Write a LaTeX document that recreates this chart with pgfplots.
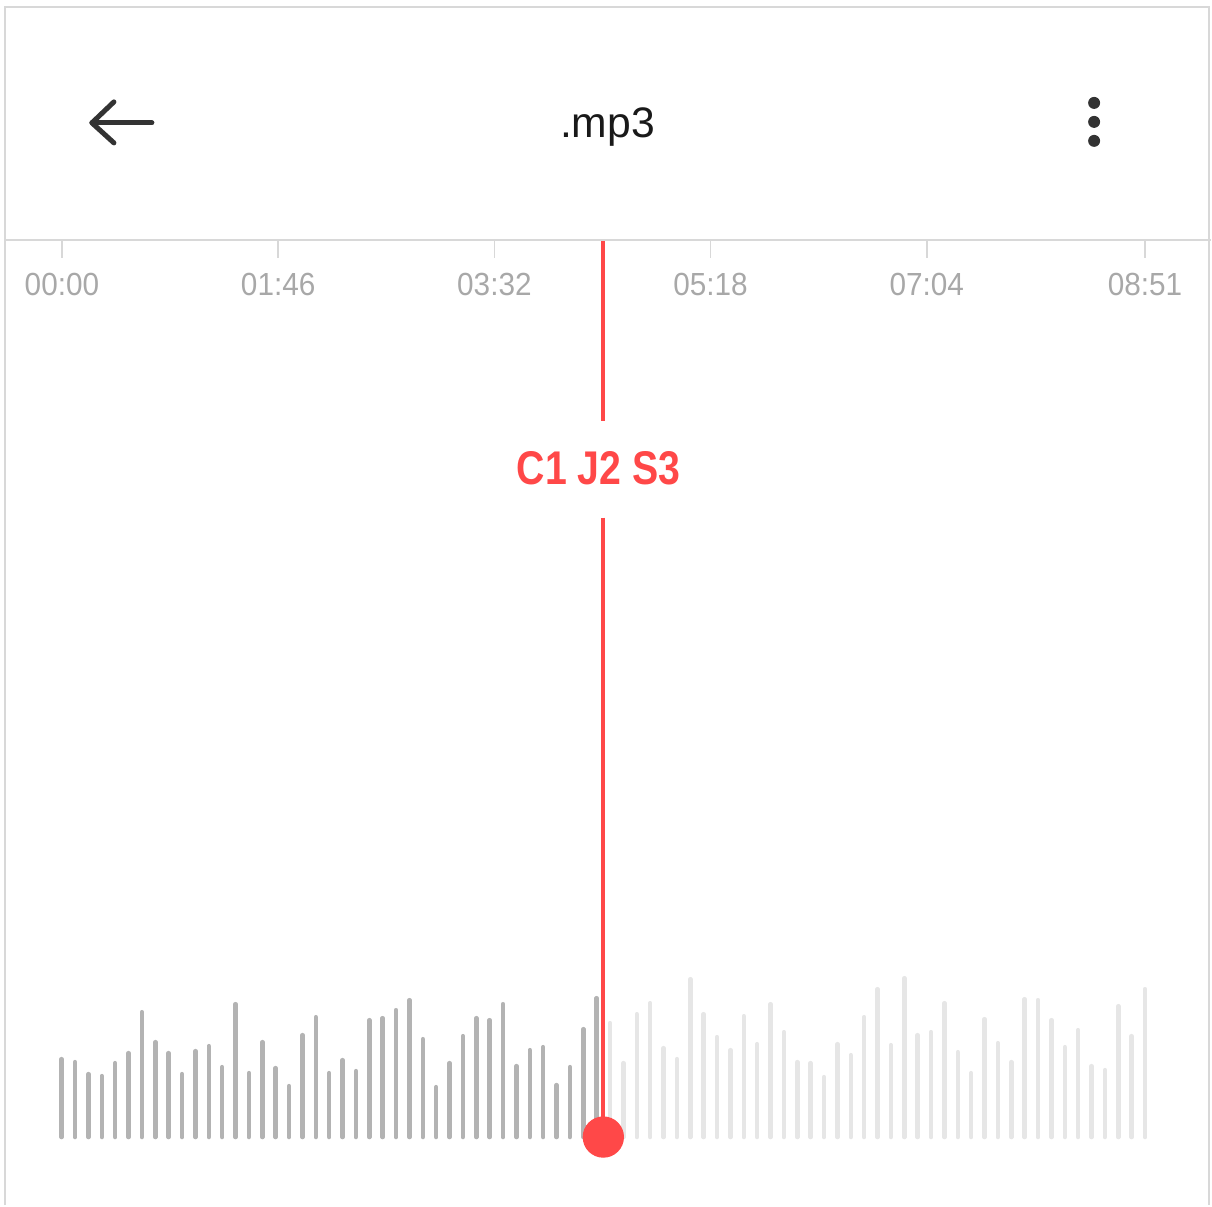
\documentclass[border=0pt]{standalone}
\usepackage{pgfplots}
\pgfplotsset{compat=1.18}
\usepackage{pgfplotstable}
\usepackage{fontspec}
\setmainfont{Liberation Sans}
\definecolor{barDark}{HTML}{B3B3B3}
\definecolor{barLight}{HTML}{E6E6E6}
\definecolor{playRed}{HTML}{FF4848}
\definecolor{tickGray}{HTML}{A8A8A8}
\definecolor{ruleGray}{HTML}{D8D8D8}
\definecolor{iconDark}{HTML}{333333}

\pgfplotstableread{
i h
0 78
1 75
2 63
3 61
4 74
5 84
6 125
7 95
8 84
9 63
10 86
11 91
12 70
13 133
14 64
15 95
16 69
17 51
18 102
19 120
20 64
21 77
22 66
23 117
24 119
25 127
26 137
27 98
28 50
29 74
30 101
31 119
32 117
33 133
34 71
35 87
36 90
37 52
38 70
39 108
40 139
}\darkbars

\pgfplotstableread{
i h
41 114
42 74
43 123
44 134
45 89
46 78
47 158
48 123
49 100
50 87
51 121
52 93
53 133
54 105
55 75
56 74
57 60
58 93
59 82
60 120
61 148
62 92
63 159
64 102
65 105
66 134
67 85
68 64
69 118
70 94
71 75
72 138
73 137
74 117
75 90
76 107
77 71
78 67
79 131
80 101
81 148
}\lightbars

\begin{document}
\begin{tikzpicture}
\begin{axis}[at={(0,0)}, anchor=south west, scale only axis,
  width=363.6pt, height=361.8pt,
  xmin=-4.609, xmax=85.933, ymin=-68, ymax=1138,
  hide axis, clip=false]
\addplot[ycomb, barLight, line width=1.35pt, line cap=round, mark=none] table[x=i,y=h]{\lightbars};
\addplot[ycomb, barDark, line width=1.35pt, line cap=round, mark=none] table[x=i,y=h]{\darkbars};
% playhead
\addplot[playRed, line width=1.2pt, mark=none] coordinates {(40.5,897) (40.5,717)};
\addplot[playRed, line width=1.2pt, mark=none] coordinates {(40.5,620) (40.5,0)};
\addplot[only marks, mark=*, mark size=6pt, playRed, mark options={draw=playRed, fill=playRed}] coordinates {(40.5,0)};
\node[playRed, font={\bfseries\fontsize{14.2}{16}\selectfont}] at (axis cs:40.14,669) {\scalebox{0.83}[1]{C1 J2 S3}};
\end{axis}
\begin{scope}[shift={(0,361.8pt)}, x=0.3pt, y=-0.3pt]
\path (0,0) rectangle (1212,1206);
% frame
\draw[ruleGray, line width=0.6pt] (5,1206) -- (5,7) -- (1210,7) -- (1210,1206);
\draw[ruleGray, line width=0.6pt] (5,240) -- (1212,240);
% timeline
\foreach \xx/\lab in {62/00:00, 278.4/01:46, 494.8/03:32, 711.1/05:18, 927.5/07:04, 1146/08:51} {
  \draw[ruleGray, line width=0.5pt] (\xx,241) -- (\xx,258);
  \node[tickGray, font={\fontsize{9.6}{11}\selectfont}] at (\xx,285) {\scalebox{0.93}[1]{\lab}};
}
% header
\draw[iconDark, line width=1.5pt, line cap=round, line join=round] (152,123) -- (92,123);
\draw[iconDark, line width=1.5pt, line cap=round, line join=round] (114,102) -- (92,123) -- (114,143);
\node[black!90, font={\fontsize{12.8}{14}\selectfont}] at (608,127) {.mp3};
\fill[iconDark] (1095,103) circle (1.8pt);
\fill[iconDark] (1095,122) circle (1.8pt);
\fill[iconDark] (1095,141) circle (1.8pt);
\end{scope}
\end{tikzpicture}
\end{document}
